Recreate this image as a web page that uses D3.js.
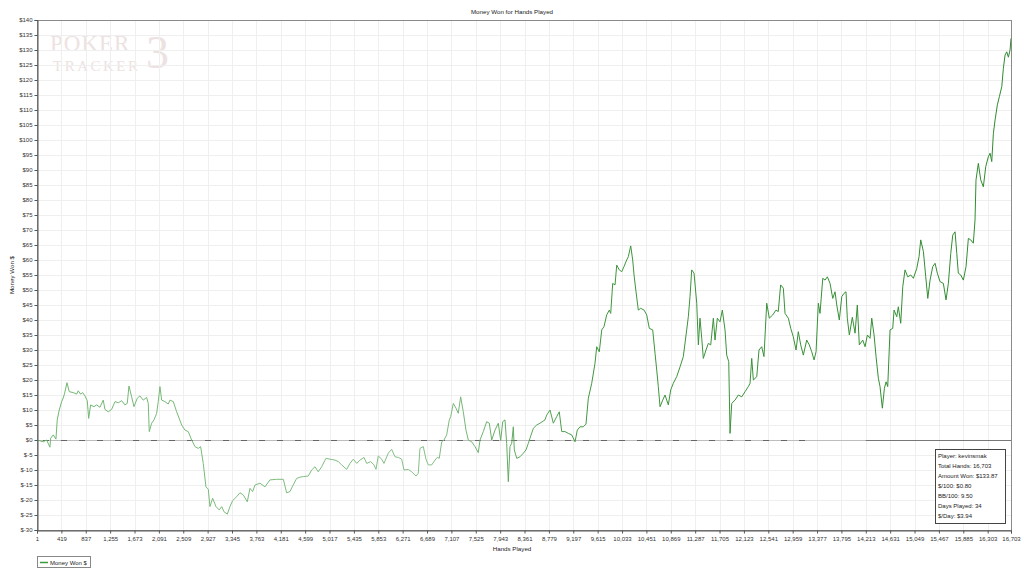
<!DOCTYPE html>
<html>
<head>
<meta charset="utf-8">
<script src="https://cdn.jsdelivr.net/npm/d3@7"></script>
<style>
html,body{margin:0;padding:0;background:#fff;}
svg{display:block;font-family:"Liberation Sans",Arial,sans-serif;}
</style>
</head>
<body>
<svg id="chart" width="1024" height="577"></svg>
<script>
const title = "Money Won for Hands Played";
const xTitle = "Hands Played";
const yTitle = "Money Won $";
const seriesName = "Money Won $";

const hands = [1,108,166,223,235,280,326,348,382,424,451,475,515,554,623,681,708,749,784,823,863,887,921,978,1024,1080,1137,1166,1223,1281,1338,1394,1453,1509,1549,1578,1624,1664,1720,1766,1823,1881,1909,1926,1967,2007,2053,2080,2109,2139,2195,2252,2281,2338,2396,2482,2538,2595,2653,2710,2766,2807,2852,2898,2938,2967,3013,3070,3126,3168,3207,3264,3310,3356,3425,3481,
3538,3607,3653,3699,3739,3824,3910,3996,4111,4225,4282,4339,4385,4454,4510,4567,4653,4711,4768,4824,4883,4956,5025,5111,5167,5226,5311,5368,5425,5483,5540,5608,5654,5723,5780,5814,5853,5912,5951,6025,6083,6140,6196,6255,6294,6368,6426,6500,6539,6568,6625,6671,6711,6769,6826,6865,6899,6941,6980,7026,7071,7095,7140,7186,7225,
7266,7311,7357,7397,7455,7512,7568,7598,7654,7712,7757,7798,7855,7911,7952,7987,8026,8055,8083,8112,8141,8169,8186,8227,8283,8340,8386,8426,8455,8512,8570,8626,8712,8741,8798,8855,8913,8957,8999,9055,9112,9170,9227,9266,9312,9369,9415,9455,9513,9570,9599,9643,9685,9724,9770,9815,9839,9873,9913,9942,9986,10028,10067,10113,10141,10182,10216,10239,10273,10312,10353,10411,10456,10501,10559,10599,10628,10655,10685,10731,10770,10827,10868,10912,10970,11028,11084,11142,11170,11199,11228,11268,
11314,11342,11370,11400,11427,11473,11513,11554,11599,11628,11667,11713,11753,11799,11828,11863,11885,11914,11971,12027,12086,12142,12199,12228,12257,12285,12343,12382,12428,12467,12514,12559,12617,12673,12712,12753,12799,12828,12885,12926,12970,13017,13056,13097,13142,13200,13245,13286,13326,13360,13399,13428,13475,13514,13554,13600,13646,13686,13715,13759,13801,13840,13874,13896,13931,13982,14029,14068,14102,14161,14201,14240,14286,14315,14355,14389,14428,14457,14497,14532,14561,14589,14629,14675,14698,14744,14771,14812,14847,14886,14932,14984,15029,15087,15126,15155,15201,15241,15276,15315,15361,15401,15440,15486,15543,15589,15629,15670,15704,15744,15773,15800,15841,15886,15932,15972,16013,16057,16086,16103,16143,16184,16229,16270,16314,16344,16373,16401,16430,16469,16503,16545,16572,16601,16630,16658,16687,16703];

const moneyWon = [0,-0.6,0,-2.4,0.6,1.7,0.3,6.7,10,12.8,14,15.6,19.1,16.1,15.8,15.3,16.4,15.3,15.8,14.7,13.1,7.2,11.7,11.1,11.7,10.9,13.3,10.2,9.4,10.2,12.8,12.4,13.1,11.7,12.2,18,14.4,11.1,13.9,14.7,13.3,14.2,12.2,2.8,5.6,6.7,8.9,12.8,17.8,13.3,12.8,12,13.3,12.8,9.4,5,3.3,2.8,0,-2.2,-2.8,-2.2,-7.8,-15.6,-16.4,-22.2,-19.4,-22.2,-23.3,-22.2,-23.9,-24.7,-22.2,-20.2,-18.9,-17.6,
-18.3,-20.6,-16.1,-17.2,-15,-14.4,-15.6,-13.3,-13.1,-13.1,-17.6,-17.2,-15.3,-12.8,-12.4,-12.2,-12,-10,-8.9,-10.6,-8.9,-6.1,-6.4,-6.7,-7.2,-8.3,-9.8,-7.8,-6.4,-7.8,-6.7,-5.8,-7.8,-7.2,-8.3,-9.8,-5.3,-6.4,-7.8,-4.4,-3.1,-5.6,-5.8,-6.4,-10,-9.8,-10.6,-12,-11.1,-2.8,-2.2,-6.4,-8.3,-8.3,-6.7,-5.8,-6.1,-0.6,0,1.7,6.7,7.8,12.2,10.6,8.9,
14.4,9.4,3.3,0,-0.6,-2.2,-4.2,0,2.8,6.1,5.6,0,3.3,5.6,-0.2,6.1,6.7,-1.1,-13.9,-2.2,-1.1,4.4,-3.3,-6.1,-5.6,-4.4,-3.3,-1.1,0.6,3.9,5,5.6,6.7,8.3,10,5.6,7.8,9.4,2.8,2.8,2.2,1.7,-0.6,3.3,4.4,4.4,5.3,13.9,18.9,25.6,31.1,29.4,36.7,37.8,41.7,43.3,42.2,52.2,51.7,58.3,56.7,56.1,57.8,60,61.1,64.7,60,55,49.4,43.3,43.9,43.3,41.7,37.2,36.7,28.9,23.3,17.8,11.1,13.3,15,11.7,16.7,18.9,21.1,24.4,27.8,36.7,41.1,47.8,56.7,55.6,
45.6,31.7,40.6,33.9,27.2,30,32.2,31.7,40.6,33.3,40.6,39.4,43.3,36.7,28.3,26.1,2.2,12.2,13.3,15,14.4,16.1,17.8,18.9,27.2,20,21.1,30,31.1,27.8,45.6,40.6,41.7,43.3,42.8,51.7,50.6,42.2,40.6,37.2,34.4,30,36.1,31.7,28.3,33.3,31.7,29.4,26.7,29.4,45.6,42.2,53.9,53.3,54.4,52.2,47.2,49.4,45,40,47.8,48.9,49.4,40.6,35,40.9,35.6,45,31.7,33.3,31.1,35,33.9,40.6,35,27.8,20.6,17.8,10.6,17.2,19.4,17.8,36.7,37.2,43.3,41.1,44.4,38.9,51.1,56.7,54.4,55,53.9,57.2,61.1,66.7,62.8,54.4,47.2,53.3,57.8,58.9,55.6,52.8,52.2,46.7,52.2,62.2,68.3,69.4,62.2,55.6,55,53.3,57.8,67.2,66.7,65.6,73.3,86.7,92.2,86.7,84.4,91.1,94.4,95.6,92.8,102.2,106.7,111.7,114.4,117.8,123.9,128.3,129.4,127.6,130,133.87];

const xTicks = [1,419,837,1255,1673,2091,2509,2927,3345,3763,4181,4599,5017,5435,5853,6271,6689,7107,7525,7943,8361,8779,9197,9615,10033,10451,10869,11287,11705,12123,12541,12959,13377,13795,14213,14631,15049,15467,15885,16303,16703];
const yTicks = [-30,-25,-20,-15,-10,-5,0,5,10,15,20,25,30,35,40,45,50,55,60,65,70,75,80,85,90,95,100,105,110,115,120,125,130,135,140];

const infoLines = ["Player: kevinsmak","Total Hands: 16,703","Amount Won: $133.87","$/100: $0.80","BB/100: 9.50","Days Played: 34","$/Day: $3.94"];

const svg = d3.select("#chart");
const L = 37, R = 1011, T = 20, B = 530;
const x = d3.scaleLinear().domain([1, 16703]).range([L, R]);
const y = d3.scaleLinear().domain([-30, 140]).range([B, T]);

// line gradient (lighter early, darker later)
const defs = svg.append("defs");
const grad = defs.append("linearGradient").attr("id", "lg").attr("gradientUnits", "userSpaceOnUse")
  .attr("x1", L).attr("x2", R).attr("y1", 0).attr("y2", 0);
grad.append("stop").attr("offset", "0%").attr("stop-color", "#6fb56f");
grad.append("stop").attr("offset", "40%").attr("stop-color", "#86bf86");
grad.append("stop").attr("offset", "57%").attr("stop-color", "#3f963f");
grad.append("stop").attr("offset", "100%").attr("stop-color", "#2f8a2f");

// watermark
const wm = svg.append("g").attr("fill", "#ede2e2").style("font-family", "'Liberation Serif','DejaVu Serif',serif");
wm.append("text").attr("x", 50).attr("y", 51).attr("font-size", 23).attr("letter-spacing", 1).text("POKER");
wm.append("text").attr("x", 53).attr("y", 71).attr("font-size", 15).attr("letter-spacing", 2.5).text("TRACKER");
wm.append("text").attr("x", 146).attr("y", 68).attr("font-size", 46).text("3");

// grid
svg.append("g").selectAll("line.h").data(yTicks).join("line")
  .attr("x1", L).attr("x2", R).attr("y1", d => y(d) + 0.5).attr("y2", d => y(d) + 0.5)
  .attr("stroke", "#efefef").attr("stroke-width", 1);
svg.append("g").selectAll("line.v").data(xTicks).join("line")
  .attr("y1", T).attr("y2", B).attr("x1", d => Math.round(x(d)) + 0.5).attr("x2", d => Math.round(x(d)) + 0.5)
  .attr("stroke", "#efefef").attr("stroke-width", 1);

// zero line
svg.append("line").attr("x1", L).attr("x2", R).attr("y1", y(0) + 0.5).attr("y2", y(0) + 0.5)
  .attr("stroke", "#bdbdbd").attr("stroke-width", 1);
svg.append("line").attr("x1", L + 6).attr("x2", x(13200)).attr("y1", y(0) + 0.5).attr("y2", y(0) + 0.5)
  .attr("stroke", "#666").attr("stroke-width", 1.2).attr("stroke-dasharray", "6,12");
svg.append("line").attr("x1", x(14213)).attr("x2", R).attr("y1", y(0) + 0.5).attr("y2", y(0) + 0.5)
  .attr("stroke", "#777").attr("stroke-width", 1.2);

// data line
const line = d3.line().x((d, i) => x(hands[i])).y(d => y(d));
svg.append("path").datum(moneyWon).attr("d", line)
  .attr("fill", "none").attr("stroke", "url(#lg)").attr("stroke-width", 1).attr("stroke-linejoin", "round");

// frame
svg.append("rect").attr("x", L + 0.5).attr("y", T + 0.5).attr("width", R - L).attr("height", B - T)
  .attr("fill", "none").attr("stroke", "#8a8a8a").attr("stroke-width", 1);

// axes
const xAxis = d3.axisBottom(x).tickValues(xTicks).tickSize(3).tickPadding(3).tickFormat(d3.format(","));
const gx = svg.append("g").attr("transform", `translate(0,${B + 0.5})`).call(xAxis);
const yAxis = d3.axisLeft(y).tickValues(yTicks).tickSize(3).tickPadding(2).tickFormat(d => "$" + d);
const gy = svg.append("g").attr("transform", `translate(${L + 0.5},0)`).call(yAxis);
[gx, gy].forEach(g => {
  g.select(".domain").attr("stroke", "#555");
  g.selectAll(".tick line").attr("stroke", "#555");
  g.selectAll(".tick text").attr("fill", "#333").attr("font-size", 6)
    .style("font-family", "'Liberation Sans',Arial,sans-serif");
});

// titles
svg.append("text").attr("x", 512).attr("y", 14).attr("text-anchor", "middle")
  .attr("font-size", 6.2).attr("fill", "#222").text(title);
svg.append("text").attr("x", 512).attr("y", 551).attr("text-anchor", "middle")
  .attr("font-size", 6.2).attr("fill", "#222").text(xTitle);
svg.append("text").attr("transform", `translate(14,${(T + B) / 2}) rotate(-90)`).attr("text-anchor", "middle")
  .attr("font-size", 6.2).attr("fill", "#222").text(yTitle);

// legend
const lg = svg.append("g");
lg.append("rect").attr("x", 37.5).attr("y", 556.5).attr("width", 53).attr("height", 11)
  .attr("fill", "#fff").attr("stroke", "#888");
lg.append("line").attr("x1", 40).attr("x2", 48).attr("y1", 562.5).attr("y2", 562.5)
  .attr("stroke", "#3f9a3f").attr("stroke-width", 1.5);
lg.append("text").attr("x", 50).attr("y", 564.5).attr("font-size", 6).attr("fill", "#222").text(seriesName);

// info box
const ib = svg.append("g");
ib.append("rect").attr("x", 935.5).attr("y", 449.5).attr("width", 70).attr("height", 74)
  .attr("fill", "#fff").attr("stroke", "#444");
ib.selectAll("text").data(infoLines).join("text")
  .attr("x", 938).attr("y", (d, i) => 457.5 + i * 10).attr("font-size", 6).attr("fill", "#222").text(d => d);
</script>
</body>
</html>
